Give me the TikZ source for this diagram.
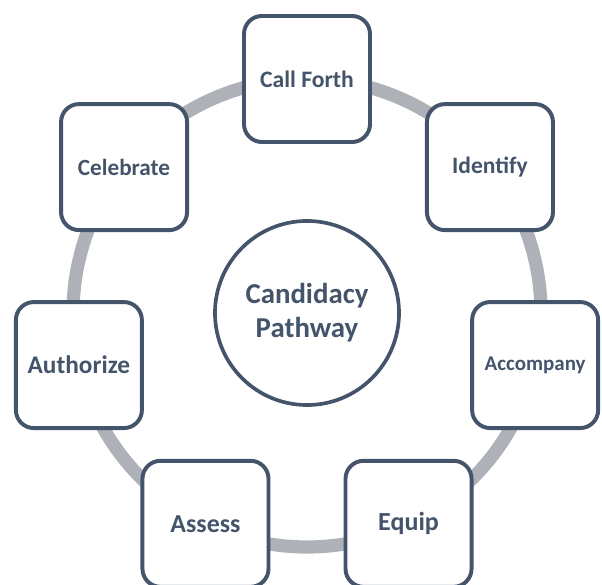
\documentclass[tikz,border=0pt]{standalone}
\usepackage{fontspec}
\setmainfont{Carlito}
\usetikzlibrary{calc, positioning}
\definecolor{slate}{HTML}{44546A}
\definecolor{ringgray}{HTML}{AEB2B8}

\begin{document}
\begin{tikzpicture}[x=0.025cm, y=0.025cm, font=\bfseries, text=slate]
    \useasboundingbox (0,0) rectangle (602,584);
    % 圆环
    \coordinate (O) at (307,271);
    \draw[ringgray, line width=0.33cm] (O) circle (234);

    % 中心
    \node[draw=slate, circle, line width=2.6pt, fill=white, minimum size=4.6cm, align=center,
          font=\fontsize{20.5}{24}\selectfont\bfseries] (hub) at (O) {Candidacy\\Pathway};

    % 步骤
    \foreach \name/\fs [count=\i] in {Call Forth/16.8, Identify/16.7, Accompany/14.9, Equip/18.5, Assess/18.4, Authorize/18, Celebrate/16.5} {
        \node[draw=slate, rectangle, rounded corners=0.45cm, line width=2.8pt, fill=white,
              minimum width=3.15cm, minimum height=3.15cm, font=\fontsize{\fs}{\fs}\selectfont\bfseries]
              (S\i) at ($(O)+({90-(\i-1)*360/7}:234)$) {\name};
    }
\end{tikzpicture}
\end{document}
